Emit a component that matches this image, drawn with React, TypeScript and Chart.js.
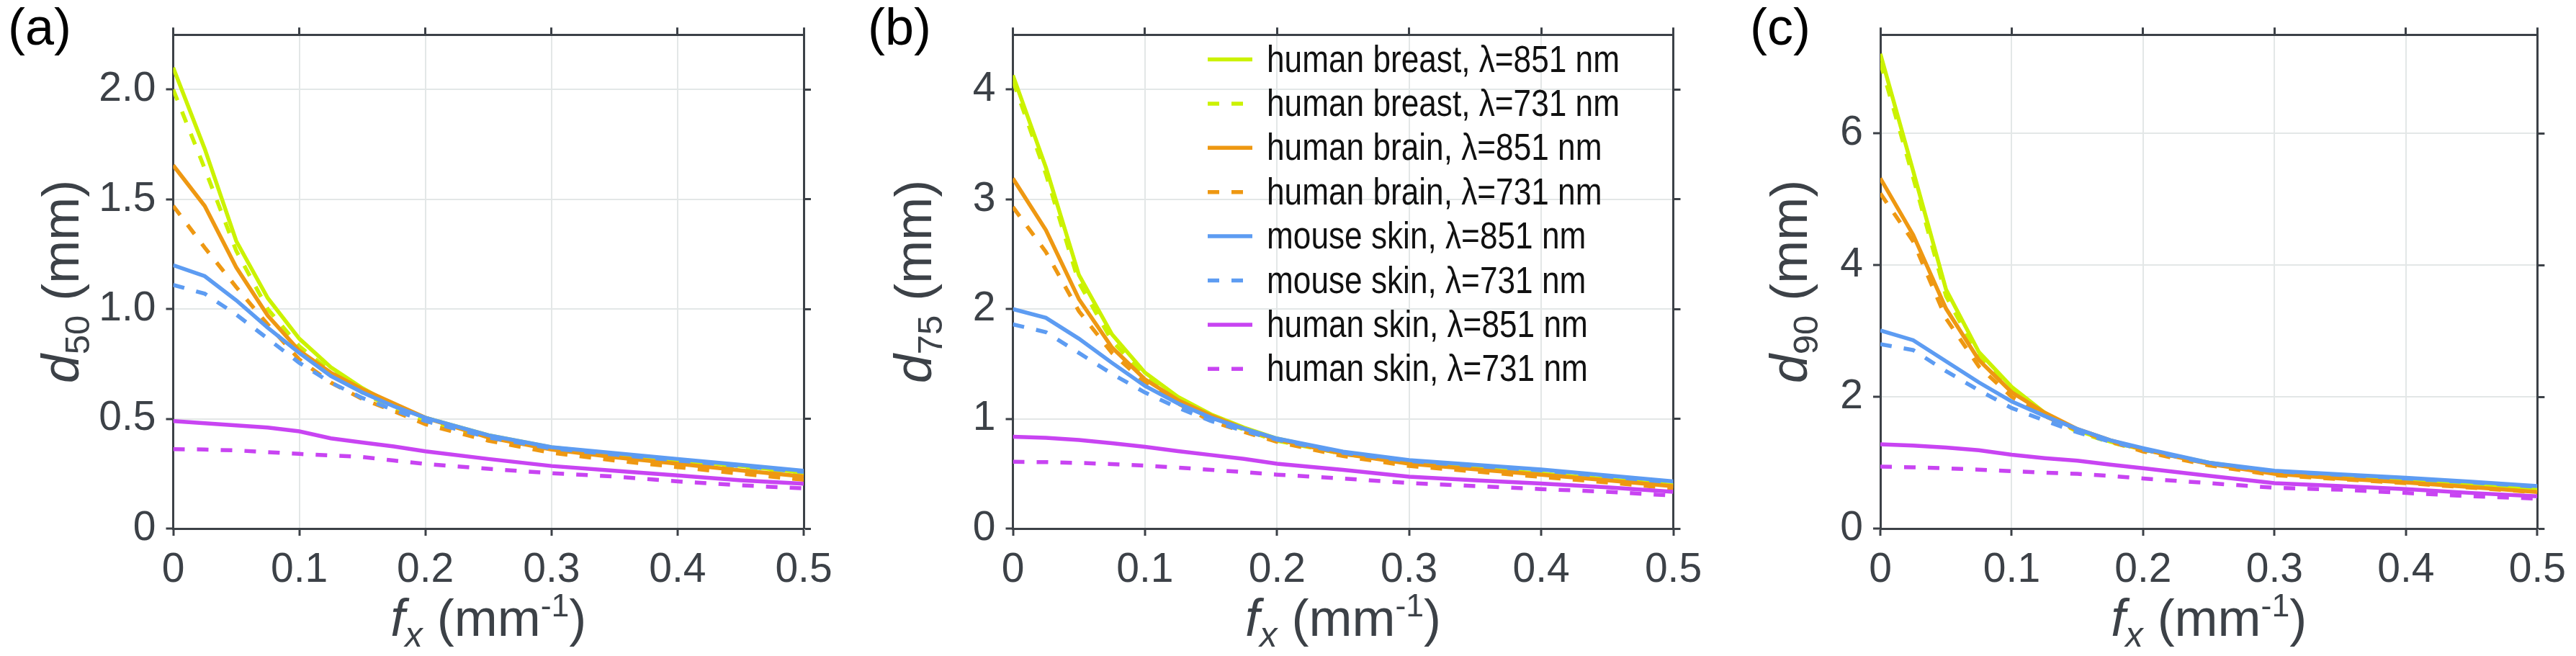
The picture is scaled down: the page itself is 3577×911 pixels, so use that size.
import React, { useEffect, useRef } from 'react';
import { Chart, registerables } from 'chart.js';

Chart.register(...registerables);

// ---------------- data ----------------
const FX = [0, 0.025, 0.05, 0.075, 0.1, 0.125, 0.15, 0.175, 0.2, 0.25, 0.3, 0.35, 0.4, 0.45, 0.5];

const SERIES_LABELS = [
  'human breast, λ=851 nm',
  'human breast, λ=731 nm',
  'human brain, λ=851 nm',
  'human brain, λ=731 nm',
  'mouse skin, λ=851 nm',
  'mouse skin, λ=731 nm',
  'human skin, λ=851 nm',
  'human skin, λ=731 nm',
];
const SERIES_COLORS = ['#cbf200', '#cbf200', '#ee9812', '#ee9812', '#5d9cf2', '#5d9cf2', '#c844f2', '#c844f2'];
const SERIES_DASHED = [false, true, false, true, false, true, false, true];

// panel (a): d50
const A_BREAST_851 = [2.10, 1.73, 1.31, 1.05, 0.865, 0.735, 0.64, 0.56, 0.505, 0.425, 0.37, 0.34, 0.31, 0.285, 0.255];
const A_BREAST_731 = [2.00, 1.64, 1.265, 1.00, 0.83, 0.715, 0.62, 0.545, 0.49, 0.415, 0.36, 0.33, 0.30, 0.275, 0.25];
const A_BRAIN_851 = [1.655, 1.47, 1.19, 0.97, 0.81, 0.71, 0.635, 0.57, 0.505, 0.415, 0.36, 0.325, 0.295, 0.265, 0.237];
const A_BRAIN_731 = [1.47, 1.28, 1.10, 0.93, 0.77, 0.665, 0.59, 0.535, 0.475, 0.40, 0.345, 0.31, 0.28, 0.25, 0.222];
const A_MOUSE_851 = [1.20, 1.15, 1.04, 0.915, 0.80, 0.695, 0.62, 0.557, 0.505, 0.425, 0.371, 0.344, 0.317, 0.29, 0.263];
const A_MOUSE_731 = [1.11, 1.07, 0.975, 0.865, 0.755, 0.665, 0.595, 0.54, 0.49, 0.415, 0.365, 0.337, 0.31, 0.285, 0.258];
const A_HSKIN_851 = [0.49, 0.48, 0.47, 0.46, 0.443, 0.411, 0.392, 0.374, 0.352, 0.317, 0.285, 0.263, 0.242, 0.22, 0.204];
const A_HSKIN_731 = [0.362, 0.36, 0.356, 0.348, 0.34, 0.333, 0.326, 0.31, 0.294, 0.272, 0.252, 0.237, 0.215, 0.197, 0.183];

// panel (b): d75
const B_BREAST_851 = [4.13, 3.29, 2.31, 1.77, 1.42, 1.20, 1.04, 0.92, 0.82, 0.69, 0.60, 0.55, 0.50, 0.45, 0.395];
const B_BREAST_731 = [4.08, 3.23, 2.24, 1.71, 1.39, 1.18, 1.02, 0.90, 0.80, 0.68, 0.60, 0.55, 0.50, 0.45, 0.40];
const B_BRAIN_851 = [3.19, 2.72, 2.09, 1.65, 1.36, 1.17, 1.03, 0.91, 0.81, 0.68, 0.59, 0.54, 0.49, 0.44, 0.385];
const B_BRAIN_731 = [2.93, 2.52, 1.98, 1.60, 1.33, 1.14, 0.98, 0.88, 0.79, 0.66, 0.57, 0.52, 0.47, 0.42, 0.365];
const B_MOUSE_851 = [2.00, 1.92, 1.73, 1.51, 1.30, 1.14, 1.01, 0.91, 0.82, 0.70, 0.624, 0.58, 0.538, 0.484, 0.43];
const B_MOUSE_731 = [1.86, 1.79, 1.60, 1.41, 1.24, 1.10, 0.98, 0.89, 0.81, 0.69, 0.615, 0.57, 0.53, 0.475, 0.42];
const B_HSKIN_851 = [0.836, 0.827, 0.807, 0.777, 0.745, 0.705, 0.67, 0.635, 0.59, 0.535, 0.473, 0.44, 0.41, 0.376, 0.335];
const B_HSKIN_731 = [0.608, 0.605, 0.598, 0.588, 0.573, 0.555, 0.535, 0.515, 0.491, 0.456, 0.415, 0.387, 0.36, 0.335, 0.30];

// panel (c): d90
const C_BREAST_851 = [7.21, 5.43, 3.63, 2.68, 2.15, 1.76, 1.49, 1.32, 1.20, 1.00, 0.86, 0.79, 0.73, 0.66, 0.59];
const C_BREAST_731 = [7.08, 5.33, 3.53, 2.61, 2.10, 1.73, 1.47, 1.31, 1.19, 0.99, 0.85, 0.78, 0.72, 0.65, 0.58];
const C_BRAIN_851 = [5.32, 4.46, 3.34, 2.56, 2.07, 1.76, 1.51, 1.34, 1.20, 0.98, 0.83, 0.76, 0.70, 0.63, 0.556];
const C_BRAIN_731 = [5.09, 4.36, 3.19, 2.46, 2.00, 1.71, 1.49, 1.32, 1.17, 0.96, 0.81, 0.75, 0.69, 0.62, 0.55];
const C_MOUSE_851 = [3.01, 2.86, 2.54, 2.22, 1.93, 1.71, 1.51, 1.34, 1.22, 1.00, 0.878, 0.824, 0.77, 0.71, 0.645];
const C_MOUSE_731 = [2.80, 2.71, 2.39, 2.10, 1.83, 1.64, 1.46, 1.32, 1.20, 0.99, 0.87, 0.815, 0.76, 0.70, 0.635];
const C_HSKIN_851 = [1.28, 1.26, 1.23, 1.19, 1.12, 1.07, 1.03, 0.97, 0.915, 0.80, 0.69, 0.645, 0.60, 0.54, 0.49];
const C_HSKIN_731 = [0.94, 0.93, 0.915, 0.895, 0.87, 0.85, 0.83, 0.80, 0.76, 0.69, 0.62, 0.59, 0.54, 0.49, 0.455];

const X_TICK_LABELS = ['0', '0.1', '0.2', '0.3', '0.4', '0.5'];
const Y_TICK_LABELS_A = ['0', '0.5', '1.0', '1.5', '2.0'];
const Y_TICK_LABELS_B = ['0', '1', '2', '3', '4'];
const Y_TICK_LABELS_C = ['0', '2', '4', '6'];

// ---------------- styling / layout ----------------
const FONT = "'Liberation Sans', Arial, Helvetica, sans-serif";
const AXIS_COLOR = '#3c4147';
const GRID_COLOR = '#e3e7e7';
const PLOT_TOP = 36.6;
const PLOT_BOTTOM = 734;
const CANVAS_H = 911;
const TICK_FS = 57;
const TITLE_FS = 72;
const LEGEND_FS = 51;
const LEGEND_TARGET_W = 490;
const LINE_W = 5.5;

type Panel = {
  key: string;
  left: number;
  width: number;
  plotLeft: number;
  plotRight: number;
  yMax: number;
  yStep: number;
  yTickLabels: string[];
  series: number[][];
  sub: string;
  titleBaseX: number;
  label: string;
  labelX: number;
  legend: boolean;
};

const PANELS: Panel[] = [
  {
    key: 'a', left: 0, width: 1190, plotLeft: 240.5, plotRight: 1116, yMax: 2.25, yStep: 0.5,
    yTickLabels: Y_TICK_LABELS_A,
    series: [A_BREAST_851, A_BREAST_731, A_BRAIN_851, A_BRAIN_731, A_MOUSE_851, A_MOUSE_731, A_HSKIN_851, A_HSKIN_731],
    sub: '50', titleBaseX: 109, label: '(a)', labelX: 11, legend: false,
  },
  {
    key: 'b', left: 1190, width: 1190, plotLeft: 216.5, plotRight: 1133.5, yMax: 4.5, yStep: 1,
    yTickLabels: Y_TICK_LABELS_B,
    series: [B_BREAST_851, B_BREAST_731, B_BRAIN_851, B_BRAIN_731, B_MOUSE_851, B_MOUSE_731, B_HSKIN_851, B_HSKIN_731],
    sub: '75', titleBaseX: 103, label: '(b)', labelX: 15, legend: true,
  },
  {
    key: 'c', left: 2380, width: 1197, plotLeft: 231, plotRight: 1149, yMax: 7.5, yStep: 2,
    yTickLabels: Y_TICK_LABELS_C,
    series: [C_BREAST_851, C_BREAST_731, C_BRAIN_851, C_BRAIN_731, C_MOUSE_851, C_MOUSE_731, C_HSKIN_851, C_HSKIN_731],
    sub: '90', titleBaseX: 129, label: '(c)', labelX: 50, legend: false,
  },
];

type Part = { text: string; font: string; dy?: number };

function drawRich(ctx: CanvasRenderingContext2D, parts: Part[], x: number, y: number) {
  const widths = parts.map((p) => {
    ctx.font = p.font;
    return ctx.measureText(p.text).width;
  });
  const total = widths.reduce((s, w) => s + w, 0);
  let cx = x - total / 2;
  parts.forEach((p, i) => {
    ctx.font = p.font;
    ctx.fillText(p.text, cx, y + (p.dy || 0));
    cx += widths[i];
  });
}

function makeDecorPlugin(panel: Panel) {
  return {
    id: 'decor_' + panel.key,
    afterDatasetsDraw(chart: any) {
      if (!panel.legend) return;
      const ctx: CanvasRenderingContext2D = chart.ctx;
      ctx.save();
      ctx.font = `${LEGEND_FS}px ${FONT}`;
      const wRef = ctx.measureText(SERIES_LABELS[0]).width || 1;
      const sx = Math.min(1, LEGEND_TARGET_W / wRef); // narrow the face like the original condensed font
      const lineX0 = 487;
      const lineX1 = 549;
      const textX = 569;
      const y0 = 82.5;
      const dy = 61.4;
      chart.data.datasets.forEach((ds: any, i: number) => {
        const y = y0 + i * dy;
        ctx.strokeStyle = ds.borderColor;
        ctx.lineWidth = ds.borderWidth;
        ctx.lineCap = 'butt';
        ctx.setLineDash(ds.borderDash || []);
        ctx.beginPath();
        ctx.moveTo(lineX0, y);
        ctx.lineTo(lineX1, y);
        ctx.stroke();
        ctx.setLineDash([]);
        ctx.save();
        ctx.fillStyle = '#111111';
        ctx.font = `${LEGEND_FS}px ${FONT}`;
        ctx.textAlign = 'left';
        ctx.textBaseline = 'alphabetic';
        ctx.translate(textX, y + 17);
        ctx.scale(sx, 1);
        ctx.fillText(ds.label, 0, 0);
        ctx.restore();
      });
      ctx.restore();
    },
    afterDraw(chart: any) {
      const ctx: CanvasRenderingContext2D = chart.ctx;
      const area = chart.chartArea;
      ctx.save();
      ctx.textAlign = 'left';
      ctx.textBaseline = 'alphabetic';
      // panel label
      ctx.fillStyle = '#000000';
      ctx.font = `72px ${FONT}`;
      ctx.fillText(panel.label, panel.labelX, 62);

      ctx.fillStyle = AXIS_COLOR;
      // x title
      const cxMid = (area.left + area.right) / 2;
      drawRich(
        ctx,
        [
          { text: 'f', font: `italic ${TITLE_FS}px ${FONT}` },
          { text: 'x', font: `italic ${TITLE_FS * 0.68}px ${FONT}`, dy: 15 },
          { text: ' (mm', font: `${TITLE_FS}px ${FONT}` },
          { text: '-1', font: `${TITLE_FS * 0.62}px ${FONT}`, dy: -27 },
          { text: ')', font: `${TITLE_FS}px ${FONT}` },
        ],
        cxMid,
        883
      );
      // y title (rotated)
      const cyMid = (area.top + area.bottom) / 2;
      ctx.translate(panel.titleBaseX, cyMid);
      ctx.rotate(-Math.PI / 2);
      drawRich(
        ctx,
        [
          { text: 'd', font: `italic ${TITLE_FS}px ${FONT}` },
          { text: panel.sub, font: `${TITLE_FS * 0.68}px ${FONT}`, dy: 15 },
          { text: ' (mm)', font: `${TITLE_FS}px ${FONT}` },
        ],
        0,
        0
      );
      ctx.restore();
    },
  };
}

function PanelChart({ panel }: { panel: Panel }) {
  const ref = useRef<HTMLCanvasElement | null>(null);
  useEffect(() => {
    if (!ref.current) return;
    const tickFont = { family: FONT, size: TICK_FS };
    const datasets = panel.series.map((arr, i) => ({
      label: SERIES_LABELS[i],
      data: FX.map((x, j) => ({ x, y: arr[j] })),
      borderColor: SERIES_COLORS[i],
      backgroundColor: SERIES_COLORS[i],
      borderWidth: LINE_W,
      borderDash: SERIES_DASHED[i] ? [16, 17] : [],
      borderCapStyle: 'butt',
      pointRadius: 0,
      pointHoverRadius: 0,
      fill: false,
      tension: 0,
      order: 7 - i,
    }));
    const leftW = panel.plotLeft;
    const rightW = panel.width - panel.plotRight;
    const topH = PLOT_TOP;
    const bottomH = CANVAS_H - PLOT_BOTTOM;
    const yLabels = panel.yTickLabels;
    const chart = new Chart(ref.current, {
      type: 'line',
      data: { datasets } as any,
      plugins: [makeDecorPlugin(panel)],
      options: {
        animation: false,
        responsive: false,
        maintainAspectRatio: false,
        devicePixelRatio: 1,
        layout: { padding: 0 },
        plugins: { legend: { display: false }, tooltip: { enabled: false }, title: { display: false } },
        events: [],
        scales: {
          x: {
            type: 'linear',
            position: 'bottom',
            min: 0,
            max: 0.5,
            ticks: {
              stepSize: 0.1,
              includeBounds: false,
              font: tickFont,
              color: AXIS_COLOR,
              padding: 14,
              maxRotation: 0,
              autoSkip: false,
              callback: (_v: any, i: number) => X_TICK_LABELS[i],
            },
            grid: { color: GRID_COLOR, lineWidth: 2, drawTicks: true, tickLength: 10, tickColor: AXIS_COLOR, tickWidth: 3 },
            border: { display: true, color: AXIS_COLOR, width: 3 },
            afterFit: (s: any) => { s.height = bottomH; },
          },
          x2: {
            type: 'linear',
            position: 'top',
            min: 0,
            max: 0.5,
            ticks: { stepSize: 0.1, includeBounds: false, display: false },
            grid: { drawOnChartArea: false, drawTicks: true, tickLength: 10, tickColor: AXIS_COLOR, tickWidth: 3 },
            border: { display: true, color: AXIS_COLOR, width: 3 },
            afterFit: (s: any) => { s.height = topH; },
          },
          y: {
            type: 'linear',
            position: 'left',
            min: 0,
            max: panel.yMax,
            ticks: {
              stepSize: panel.yStep,
              includeBounds: false,
              font: tickFont,
              color: AXIS_COLOR,
              padding: 14,
              autoSkip: false,
              callback: (_v: any, i: number) => yLabels[i],
            },
            grid: { color: GRID_COLOR, lineWidth: 2, drawTicks: true, tickLength: 10, tickColor: AXIS_COLOR, tickWidth: 3 },
            border: { display: true, color: AXIS_COLOR, width: 3 },
            afterFit: (s: any) => { s.width = leftW; },
          },
          y2: {
            type: 'linear',
            position: 'right',
            min: 0,
            max: panel.yMax,
            ticks: { stepSize: panel.yStep, includeBounds: false, display: false },
            grid: { drawOnChartArea: false, drawTicks: true, tickLength: 10, tickColor: AXIS_COLOR, tickWidth: 3 },
            border: { display: true, color: AXIS_COLOR, width: 3 },
            afterFit: (s: any) => { s.width = rightW; },
          },
        },
      } as any,
    });
    return () => chart.destroy();
  }, [panel]);
  return (
    <div style={{ position: 'absolute', left: panel.left, top: 0, width: panel.width, height: CANVAS_H }}>
      <canvas ref={ref} width={panel.width} height={CANVAS_H} style={{ width: panel.width, height: CANVAS_H, display: 'block' }} />
    </div>
  );
}

export default function App() {
  return (
    <div style={{ position: 'absolute', left: 0, top: 0, width: 3577, height: CANVAS_H, background: '#ffffff', overflow: 'hidden' }}>
      {PANELS.map((p) => (
        <PanelChart key={p.key} panel={p} />
      ))}
    </div>
  );
}
